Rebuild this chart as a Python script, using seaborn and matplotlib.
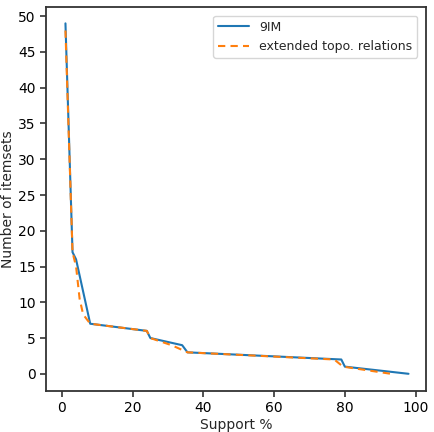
import numpy as np
import pandas as pd
import seaborn as sns
import matplotlib
matplotlib.use('Agg')
import matplotlib.pyplot as plt

# 9IM relations
support_9im = [1, 3, 4, 8, 24, 25, 34, 35.5, 79, 80, 98]
count_9im = [49, 17, 16, 7, 6, 5, 4, 3, 2, 1, 0]

# extended topological relations
support_ext = [1, 3, 4, 5, 6, 8, 24, 25, 31, 35.5, 77, 79.5, 93]
count_ext = [48, 17, 15, 10.5, 8.3, 7, 6, 5, 4, 3, 2, 1, 0]

df = pd.concat([
    pd.DataFrame({'support': support_9im, 'count': count_9im, 'kind': '9IM'}),
    pd.DataFrame({'support': support_ext, 'count': count_ext, 'kind': 'extended topo. relations'}),
])

sns.set_style('ticks')
plt.rcParams['font.family'] = ['DejaVu Sans']

fig, ax = plt.subplots(figsize=(4.34, 4.32), dpi=100)
sns.lineplot(data=df, x='support', y='count', hue='kind', style='kind',
             sort=False, estimator=None, ax=ax, linewidth=1.5,
             dashes={'9IM': '', 'extended topo. relations': (3.5, 2.5)})
ax.set_xlabel('Support %', fontsize=10, labelpad=2)
ax.set_ylabel('Number of itemsets', fontsize=10, labelpad=2)
ax.set_xticks([0, 20, 40, 60, 80, 100])
ax.set_yticks(np.arange(0, 51, 5))
ax.set_xlim(-4.5, 103)
ax.set_ylim(-2.4, 51.3)
ax.tick_params(labelsize=10, length=4.5, width=1.2, pad=3, color='#333333',
               labelcolor='black')
for s in ax.spines.values():
    s.set_color('#333333')
    s.set_linewidth(1.3)
ax.legend(loc='upper right', title=None, fontsize=9, handlelength=2.5,
          borderaxespad=0.7)

plt.subplots_adjust(left=0.106, right=0.982, top=0.984, bottom=0.095)
plt.savefig('out.png')
